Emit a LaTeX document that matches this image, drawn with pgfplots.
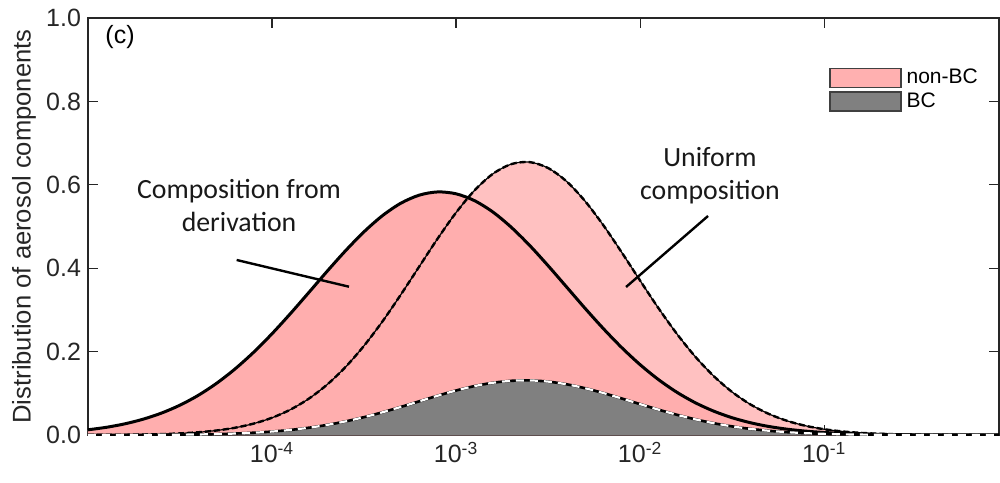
\documentclass[border=0pt]{standalone}
\usepackage{pgfplots}
\pgfplotsset{compat=1.18}
\usepackage{pgfplotstable}
\usepackage{fontspec}
\setmainfont{Liberation Sans}
\newfontfamily\calib{Carlito}
\definecolor{pinkA}{RGB}{255,174,174}
\definecolor{pinkB}{RGB}{255,193,193}
\definecolor{pinkL}{RGB}{255,176,176}
\definecolor{bcgray}{RGB}{128,128,128}
\definecolor{axgray}{RGB}{38,38,38}
\pgfplotstableread{
x S U B
1.0000e-5 0.01249 0.00017 0.00003
1.2589e-5 0.01847 0.00034 0.00007
1.5849e-5 0.02674 0.00065 0.00013
1.9953e-5 0.03795 0.00122 0.00024
2.5119e-5 0.05268 0.00219 0.00044
3.1623e-5 0.07160 0.00385 0.00077
3.9811e-5 0.09532 0.00656 0.00131
5.0119e-5 0.1244 0.01087 0.00217
6.3096e-5 0.1588 0.01747 0.00349
7.9433e-5 0.1984 0.02730 0.00546
1.0000e-4 0.2429 0.04137 0.00827
1.2589e-4 0.2912 0.06092 0.01218
1.5849e-4 0.3418 0.08716 0.01743
1.9953e-4 0.3929 0.1211 0.02422
2.5119e-4 0.4422 0.1634 0.03268
3.1623e-4 0.4874 0.2141 0.04282
3.9811e-4 0.5260 0.2723 0.05446
5.0119e-4 0.5559 0.3367 0.06734
6.3096e-4 0.5752 0.4041 0.08082
7.9433e-4 0.5829 0.4711 0.09422
1.0000e-3 0.5784 0.5334 0.10668
1.2589e-3 0.5620 0.5865 0.11730
1.5849e-3 0.5347 0.6263 0.12526
1.9953e-3 0.4981 0.6496 0.12992
2.5119e-3 0.4545 0.6544 0.13088
3.1623e-3 0.4060 0.6402 0.12804
3.9811e-3 0.3552 0.6083 0.12166
5.0119e-3 0.3042 0.5613 0.11226
6.3096e-3 0.2552 0.5031 0.10062
7.9433e-3 0.2096 0.4379 0.08758
1.0000e-2 0.1686 0.3702 0.07404
1.2589e-2 0.1328 0.3039 0.06078
1.5849e-2 0.1024 0.2424 0.04848
1.9953e-2 0.07731 0.1877 0.03754
2.5119e-2 0.05717 0.1412 0.02824
3.1623e-2 0.04139 0.1031 0.02062
3.9811e-2 0.02934 0.07316 0.01463
5.0119e-2 0.02037 0.05038 0.01008
6.3096e-2 0.01386 0.03371 0.00674
7.9433e-2 0.00923 0.02192 0.00438
1.0000e-1 0.00601 0.01384 0.00277
1.2589e-1 0.00384 0.00848 0.00170
1.5849e-1 0.00240 0.00505 0.00101
1.9953e-1 0.00147 0.00292 0.00058
2.5119e-1 0.00088 0.00164 0.00033
3.1623e-1 0.00052 0.00089 0.00018
3.9811e-1 0.00030 0.00047 0.00009
5.0119e-1 0.00016 0.00024 0.00005
6.3096e-1 0.00009 0.00012 0.00002
7.9433e-1 0.00005 0.00006 0.00001
1.0000 0.00002 0.00003 0.00001
}\data
\begin{document}
\begin{tikzpicture}
\useasboundingbox (-44pt,-23.5pt) rectangle (456pt,217.5pt);
\begin{axis}[
  scale only axis,
  width=455.5pt, height=208.5pt,
  xmode=log, log basis x=10,
  xmin=1e-5, xmax=0.891,
  ymin=0, ymax=1,
  axis line style={axgray, line width=0.6pt},
  tick style={axgray, line width=0.6pt},
  major tick length=5pt,
  minor tick num=0,
  minor x tick style={draw=none},
  tick align=inside,
  xtick={1e-4,1e-3,1e-2,1e-1},
  xticklabels={10\textsuperscript{-4},10\textsuperscript{-3},10\textsuperscript{-2},10\textsuperscript{-1}},
  ytick={0,0.2,0.4,0.6,0.8,1.0},
  yticklabels={0.0,0.2,0.4,0.6,0.8,1.0},
  ticklabel style={font=\fontsize{12.5}{14}\selectfont, text=axgray},
  clip=true,
  legend style={at={(rel axis cs:0.8134,0.886)}, anchor=north west, draw=none, fill=none,
    font=\fontsize{10.5}{12}\selectfont, inner sep=0pt, row sep=0pt,
    legend cell align=left, nodes={inner xsep=2.5pt, inner ysep=1.5pt}},
  legend image code/.code={\draw[#1] (0pt,-4.75pt) rectangle (35.5pt,4.75pt);},
]
% fills
\addplot[draw=none, fill=pinkB, forget plot] table[x=x,y=U] {\data} \closedcycle;
\addplot[draw=none, fill=pinkA, forget plot] table[x=x,y=S] {\data} \closedcycle;
\addplot[draw=none, fill=bcgray, forget plot] table[x=x,y=B] {\data} \closedcycle;
% uniform composition line
\addplot[black, line width=0.6pt, smooth, forget plot] table[x=x,y=U] {\data};
\addplot[black, line width=1.2pt, dash pattern=on 3pt off 1.5pt, smooth, forget plot] table[x=x,y=U] {\data};
% derivation line
\addplot[black, line width=1.5pt, smooth, forget plot] table[x=x,y=S] {\data};
% BC line
\addplot[black, line width=1.3pt, smooth, forget plot] table[x=x,y=B] {\data};
\addplot[white, line width=1.1pt, dash pattern=on 4pt off 3pt, smooth, forget plot] table[x=x,y=B] {\data};
% legend
\addlegendimage{fill=pinkL, draw=black!75, line width=0.6pt}
\addlegendentry{non-BC}
\addlegendimage{fill=bcgray, draw=black!75, line width=0.6pt}
\addlegendentry{BC}
% annotations
\draw[black, line width=1.2pt] (rel axis cs:0.1632,0.4197) -- (rel axis cs:0.2865,0.3556);
\draw[black, line width=1.2pt] (rel axis cs:0.6806,0.5252) -- (rel axis cs:0.5906,0.3549);
\node[align=center, font=\calib\fontsize{13.9}{16.5}\selectfont, text=black!90] at (rel axis cs:0.1658,0.550) {Composition from\\derivation};
\node[align=center, font=\calib\fontsize{13.9}{16.5}\selectfont, text=black!90] at (rel axis cs:0.6828,0.622) {Uniform\\composition};
\node[anchor=west, font=\fontsize{12.5}{14}\selectfont, inner sep=0pt, text=black] at (rel axis cs:0.0187,0.954) {(c)};
\end{axis}
\node[rotate=90, font=\fontsize{12.8}{14}\selectfont, text=axgray] at (-32pt,104.25pt) {Distribution of aerosol components};
\end{tikzpicture}
\end{document}
